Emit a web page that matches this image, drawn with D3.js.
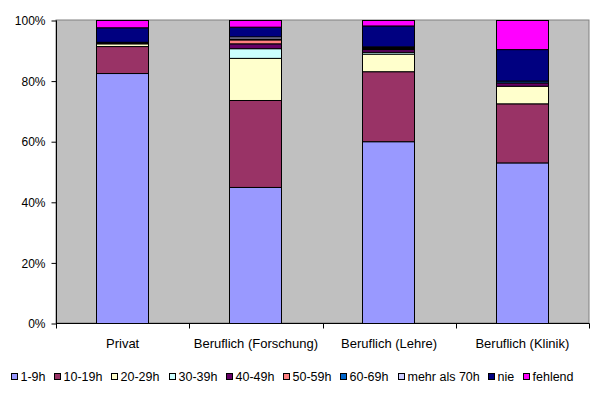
<!DOCTYPE html>
<html><head><meta charset="utf-8">
<script src="https://cdn.jsdelivr.net/npm/d3@7"></script>
<style>body{margin:0;background:#fff}svg{display:block}text{font-family:"Liberation Sans",Arial,sans-serif;font-size:12.5px;fill:#000}</style>
</head><body>
<svg id="c" width="599" height="399"></svg>
<script>
const categories = ["Privat", "Beruflich (Forschung)", "Beruflich (Lehre)", "Beruflich (Klinik)"];
const seriesNames = ["1-9h", "10-19h", "20-29h", "30-39h", "40-49h", "50-59h", "60-69h", "mehr als 70h", "nie", "fehlend"];
const colors = ["#9999FF", "#993366", "#FFFFCC", "#CCFFFF", "#660066", "#FF8080", "#0066CC", "#CCCCFF", "#000080", "#FF00FF"];
// percentages per category, one array per series
const s_1_9h   = [82.5, 44.9, 60.0, 53.0];
const s_10_19h = [8.9, 28.7, 23.1, 19.5];
const s_20_29h = [0.9, 13.9, 5.8, 5.8];
const s_30_39h = [0.2, 3.2, 0.6, 0.0];
const s_40_49h = [0.3, 1.6, 0.9, 1.1];
const s_50_59h = [0.0, 1.3, 0.3, 0.0];
const s_60_69h = [0.0, 0.3, 0.3, 0.6];
const s_70plus = [0.0, 0.7, 0.3, 0.0];
const s_nie    = [4.8, 3.2, 6.9, 10.4];
const s_fehl   = [2.4, 2.2, 1.8, 9.6];
const yTicks = [0, 20, 40, 60, 80, 100];

const seriesVals = [s_1_9h, s_10_19h, s_20_29h, s_30_39h, s_40_49h, s_50_59h, s_60_69h, s_70plus, s_nie, s_fehl];
const rows = categories.map((c, i) => {
  const r = {cat: c};
  seriesNames.forEach((s, j) => r[s] = seriesVals[j][i]);
  return r;
});
const stacked = d3.stack().keys(seriesNames).offset(d3.stackOffsetExpand)(rows);

const svg = d3.select("#c");
const L = 56, R = 589, T = 20, B = 323;
const x = d3.scaleBand().domain(categories).range([L, R]).paddingInner(0.6).paddingOuter(0.3);
const y = d3.scaleLinear().domain([0, 1]).range([B, T]);

svg.append("rect").attr("x", L).attr("y", T).attr("width", R - L).attr("height", B - T)
  .attr("fill", "#C0C0C0").attr("stroke", "#808080").attr("stroke-width", 1);

stacked.forEach((layer, j) => {
  svg.append("g").selectAll("rect").data(layer).join("rect")
    .attr("x", d => Math.round(x(d.data.cat)) + 0.5)
    .attr("y", d => y(d[1]) + 0.5)
    .attr("width", Math.round(x.bandwidth()) - 1)
    .attr("height", d => Math.max(0, y(d[0]) - y(d[1])))
    .attr("fill", colors[j])
    .attr("stroke", "#000").attr("stroke-width", 1)
    .attr("stroke-opacity", d => (d[1] - d[0]) > 0 ? 1 : 0);
});

// y axis
const ya = svg.append("g").attr("transform", `translate(${L + 0.5},0.5)`)
  .call(d3.axisLeft(y).tickValues(yTicks.map(v => v / 100)).tickFormat(v => Math.round(v * 100) + "%").tickSize(5).tickPadding(6));
ya.select(".domain").attr("stroke", "#000").attr("d", `M0,${T}V${B}`);
ya.selectAll("line").attr("stroke", "#000");
ya.selectAll("text").style("font-family", '"Liberation Sans",Arial,sans-serif').style("font-size", "12px").attr("fill", "#000").attr("dy", "0.35em");

// x axis
const xa = svg.append("g").attr("transform", `translate(0,${B + 0.5})`);
xa.append("line").attr("x1", L).attr("x2", R + 0.5).attr("y1", 0).attr("y2", 0).attr("stroke", "#000");
const bounds = d3.range(categories.length + 1).map(i => L + i * (R - L) / categories.length);
xa.selectAll(".tk").data(bounds).join("line").attr("class", "tk")
  .attr("x1", d => Math.round(d) + 0.5).attr("x2", d => Math.round(d) + 0.5).attr("y1", 0).attr("y2", 5).attr("stroke", "#000");
xa.selectAll(".lb").data(categories).join("text").attr("class", "lb")
  .attr("x", d => x(d) + x.bandwidth() / 2).attr("y", 24).attr("text-anchor", "middle")
  .style("font-size", "13px").text(d => d);

// legend
const lg = svg.append("g");
const items = lg.selectAll("g").data(seriesNames).join("g");
items.append("rect").attr("width", 6).attr("height", 6).attr("y", 373.5)
  .attr("fill", (d, i) => colors[i]).attr("stroke", "#000").attr("stroke-width", 1);
items.append("text").attr("x", 9).attr("y", 381).style("font-size", "12.5px").text(d => d);
const widths = [];
items.each(function () { widths.push(d3.select(this).select("text").node().getComputedTextLength()); });
const legL = 11, legR = 573;
const sumW = d3.sum(widths) + 9 * widths.length;
const gap = (legR - legL - sumW) / (widths.length - 1);
let cx = legL;
const pos = widths.map(w => { const p = cx; cx += 9 + w + gap; return p; });
items.attr("transform", (d, i) => `translate(${Math.round(pos[i]) + 0.5},0)`);
</script>
</body></html>
